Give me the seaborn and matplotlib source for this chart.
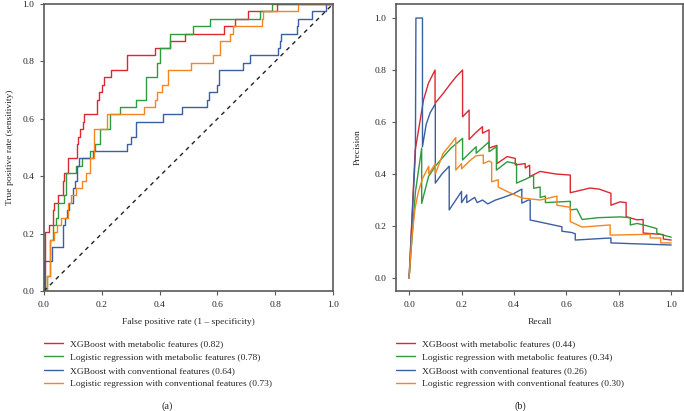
import matplotlib
matplotlib.use("Agg")
import matplotlib.pyplot as plt
from matplotlib.lines import Line2D
import numpy as np
import pandas as pd
import seaborn as sns

# model names + scores shown in the legends
models = [
    "XGBoost with metabolic features",
    "Logistic regression with metabolic features",
    "XGBoost with conventional features",
    "Logistic regression with conventional features",
]
roc_auc = [0.82, 0.78, 0.64, 0.73]
pr_ap = [0.44, 0.34, 0.26, 0.30]
colors = ["#dc2831", "#2f9a3e", "#3b5fa3", "#f5861f"]

# ROC curves (step corners)
red_fpr = [0.0, 0.005, 0.018, 0.030, 0.035, 0.050, 0.065, 0.070, 0.084, 0.115, 0.118, 0.125, 0.136, 0.140,
           0.183, 0.191, 0.200, 0.209, 0.232, 0.288, 0.384, 0.436, 0.488, 0.624, 0.661, 0.707, 0.805, 1.0]
red_tpr = [0.0, 0.205, 0.231, 0.282, 0.308, 0.333, 0.385, 0.410, 0.462, 0.513, 0.538, 0.564, 0.590, 0.615,
           0.667, 0.692, 0.718, 0.744, 0.769, 0.821, 0.846, 0.872, 0.897, 0.923, 0.949, 0.974, 1.0, 1.0]

green_fpr = [0.0, 0.012, 0.020, 0.030, 0.040, 0.047, 0.070, 0.075, 0.110, 0.130, 0.159, 0.175, 0.194,
             0.228, 0.263, 0.320, 0.352, 0.390, 0.401, 0.436, 0.517, 0.574, 0.747, 0.790, 1.0]
green_tpr = [0.0, 0.051, 0.179, 0.231, 0.256, 0.308, 0.333, 0.410, 0.436, 0.462, 0.487, 0.513, 0.564,
             0.615, 0.641, 0.667, 0.744, 0.795, 0.846, 0.897, 0.923, 0.949, 0.974, 1.0, 1.0]

blue_fpr = [0.0, 0.0, 0.027, 0.065, 0.072, 0.078, 0.085, 0.100, 0.107, 0.115, 0.122, 0.170, 0.286, 0.300,
            0.320, 0.413, 0.476, 0.563, 0.570, 0.600, 0.605, 0.690, 0.713, 0.810, 0.815, 0.820, 0.875,
            0.880, 0.926, 0.975, 1.0]
blue_tpr = [0.0, 0.103, 0.154, 0.231, 0.256, 0.282, 0.308, 0.359, 0.385, 0.436, 0.462, 0.487, 0.513, 0.538,
            0.590, 0.615, 0.641, 0.667, 0.692, 0.718, 0.769, 0.795, 0.821, 0.846, 0.872, 0.897, 0.923,
            0.949, 0.974, 1.0, 1.0]

orange_fpr = [0.0, 0.010, 0.020, 0.035, 0.045, 0.060, 0.084, 0.095, 0.110, 0.130, 0.145, 0.160, 0.174,
              0.217, 0.347, 0.384, 0.390, 0.410, 0.430, 0.510, 0.586, 0.609, 0.644, 0.655, 0.753, 0.757,
              0.880, 1.0]
orange_tpr = [0.0, 0.051, 0.179, 0.205, 0.231, 0.256, 0.308, 0.333, 0.359, 0.385, 0.410, 0.462, 0.564,
              0.615, 0.641, 0.667, 0.692, 0.718, 0.769, 0.795, 0.821, 0.872, 0.897, 0.923, 0.949, 0.974,
              1.0, 1.0]

# precision-recall curves
red_rec = [0.0, 0.023, 0.055, 0.074, 0.099, 0.099, 0.13, 0.16, 0.18, 0.204, 0.204, 0.229, 0.229, 0.255,
           0.28, 0.28, 0.305, 0.305, 0.335, 0.335, 0.374, 0.405, 0.405, 0.443, 0.443, 0.46, 0.46, 0.5, 0.56,
           0.615, 0.615, 0.69, 0.725, 0.77, 0.77, 0.805, 0.828, 0.828, 0.868, 0.893, 0.893, 0.97, 0.97, 1.0]
red_prec = [0.0, 0.49, 0.685, 0.75, 0.80, 0.672, 0.71, 0.75, 0.775, 0.80, 0.62, 0.646, 0.533, 0.56,
            0.582, 0.557, 0.57, 0.50, 0.51, 0.44, 0.467, 0.46, 0.435, 0.44, 0.423, 0.434, 0.39, 0.41, 0.40,
            0.396, 0.328, 0.346, 0.342, 0.326, 0.28, 0.293, 0.29, 0.236, 0.224, 0.225, 0.173, 0.167, 0.15, 0.146]

green_rec = [0.0, 0.024, 0.048, 0.048, 0.074, 0.1, 0.125, 0.16, 0.204, 0.204, 0.23, 0.256, 0.256, 0.305,
             0.305, 0.333, 0.333, 0.374, 0.41, 0.41, 0.44, 0.475, 0.475, 0.5, 0.5, 0.52, 0.52, 0.615, 0.615,
             0.64, 0.66, 0.72, 0.805, 0.844, 0.844, 0.87, 0.91, 0.945, 0.945, 0.97, 1.0]
green_prec = [0.0, 0.33, 0.50, 0.287, 0.39, 0.43, 0.46, 0.50, 0.537, 0.454, 0.48, 0.505, 0.48, 0.524,
              0.486, 0.505, 0.415, 0.447, 0.44, 0.365, 0.378, 0.395, 0.345, 0.35, 0.31, 0.315, 0.29, 0.295,
              0.262, 0.265, 0.225, 0.232, 0.235, 0.232, 0.204, 0.21, 0.2, 0.19, 0.172, 0.165, 0.157]

blue_rec = [0.0, 0.024, 0.026, 0.051, 0.051, 0.065, 0.08, 0.1, 0.1, 0.125, 0.153, 0.153, 0.2, 0.2, 0.22,
            0.22, 0.25, 0.26, 0.28, 0.3, 0.33, 0.36, 0.4, 0.43, 0.43, 0.455, 0.462, 0.462, 0.5, 0.583, 0.583,
            0.62, 0.634, 0.634, 0.7, 0.77, 0.77, 0.85, 1.0]
blue_prec = [0.0, 0.48, 1.0, 1.0, 0.505, 0.59, 0.635, 0.67, 0.365, 0.40, 0.43, 0.262, 0.333, 0.29, 0.32,
             0.29, 0.31, 0.29, 0.30, 0.285, 0.30, 0.31, 0.325, 0.342, 0.288, 0.30, 0.30, 0.223, 0.215, 0.197,
             0.18, 0.175, 0.17, 0.146, 0.15, 0.154, 0.135, 0.132, 0.127]

orange_rec = [0.0, 0.01, 0.023, 0.035, 0.05, 0.075, 0.075, 0.1, 0.1, 0.13, 0.155, 0.178, 0.178, 0.2, 0.2,
              0.23, 0.255, 0.283, 0.283, 0.305, 0.315, 0.315, 0.34, 0.34, 0.38, 0.43, 0.5, 0.564, 0.564,
              0.615, 0.615, 0.66, 0.767, 0.767, 0.92, 0.92, 0.96, 0.96, 1.0]
orange_prec = [0.0, 0.15, 0.27, 0.33, 0.38, 0.43, 0.40, 0.44, 0.40, 0.48, 0.51, 0.54, 0.415, 0.44, 0.42,
               0.45, 0.47, 0.473, 0.44, 0.45, 0.445, 0.37, 0.378, 0.35, 0.33, 0.308, 0.30, 0.315, 0.28,
               0.272, 0.217, 0.196, 0.204, 0.165, 0.168, 0.154, 0.154, 0.135, 0.135]

sns.set_theme(style="ticks")
plt.rcParams["font.family"] = ["Liberation Serif", "DejaVu Serif"]
plt.rcParams["axes.edgecolor"] = "#5a5a5a"
plt.rcParams["axes.linewidth"] = 1.2
FS = 6.8

roc_labels = [f"{m} ({a:.2f})" for m, a in zip(models, roc_auc)]
pr_labels = [f"{m} ({a:.2f})" for m, a in zip(models, pr_ap)]

roc_df = pd.concat([
    pd.DataFrame({"fpr": f, "tpr": t, "model": lab})
    for f, t, lab in zip([red_fpr, green_fpr, blue_fpr, orange_fpr],
                         [red_tpr, green_tpr, blue_tpr, orange_tpr], roc_labels)
], ignore_index=True)
pr_df = pd.concat([
    pd.DataFrame({"recall": r, "precision": p, "model": lab})
    for r, p, lab in zip([red_rec, green_rec, blue_rec, orange_rec],
                         [red_prec, green_prec, blue_prec, orange_prec], pr_labels)
], ignore_index=True)

fig = plt.figure(figsize=(6.84, 4.11), dpi=100)
ax1 = fig.add_axes([44 / 684, 120 / 411, 289 / 684, 287 / 411])
ax2 = fig.add_axes([396 / 684, 120 / 411, 287 / 684, 287 / 411])

# (a) ROC
sns.lineplot(data=roc_df, x="fpr", y="tpr", hue="model", hue_order=roc_labels,
             palette=dict(zip(roc_labels, colors)), estimator=None, sort=False,
             drawstyle="steps-post", lw=1.0, legend=False, ax=ax1)
ax1.plot([0, 1], [0, 1], ls=(0, (3, 3)), color="#222222", lw=1.0)
ax1.set_xlim(0, 1)
ax1.set_ylim(0, 1)
ax1.set_xlabel("False positive rate (1 \u2013 specificity)", fontsize=FS, labelpad=7)
ax1.set_ylabel("True positive rate (sensitivity)", fontsize=FS, labelpad=6)

# (b) precision-recall
sns.lineplot(data=pr_df, x="recall", y="precision", hue="model", hue_order=pr_labels,
             palette=dict(zip(pr_labels, colors)), estimator=None, sort=False,
             lw=1.0, legend=False, ax=ax2)
ax2.set_xlim(-0.05, 1.045)
ax2.set_ylim(-0.05, 1.054)
ax2.set_xlabel("Recall", fontsize=FS, labelpad=7)
ax2.set_ylabel("Precision", fontsize=FS, labelpad=9)

for ax, labs in [(ax1, roc_labels), (ax2, pr_labels)]:
    ticks = np.arange(0, 1.01, 0.2)
    ax.set_xticks(ticks)
    ax.set_yticks(ticks)
    ax.set_xticklabels([f"{t:.1f}" for t in ticks])
    ax.set_yticklabels([f"{t:.1f}" for t in ticks])
    ax.tick_params(labelsize=FS, length=3, width=0.8, color="#5a5a5a", pad=4)
    for s in ax.spines.values():
        s.set_visible(True)
    handles = [Line2D([], [], color=c, lw=1.0) for c in colors]
    ax.legend(handles, labs, loc="upper left", bbox_to_anchor=(0.0, -0.17), frameon=False,
              fontsize=FS, handlelength=2.0, handletextpad=0.7, labelspacing=0.5,
              borderpad=0, borderaxespad=0)

fig.text(167 / 684, 1 - 406 / 411, "(a)", ha="center", va="center", fontsize=FS + 0.5)
fig.text(520 / 684, 1 - 406 / 411, "(b)", ha="center", va="center", fontsize=FS + 0.5)

fig.savefig("out.png", dpi=100)
